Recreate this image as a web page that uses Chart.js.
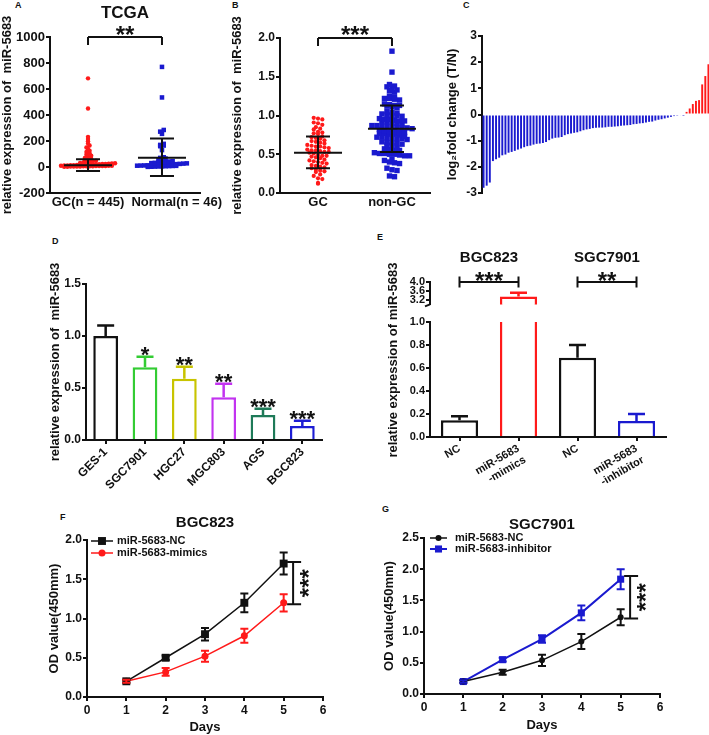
<!DOCTYPE html>
<html>
<head>
<meta charset="utf-8">
<title>miR-5683 figure</title>
<script src="https://cdn.jsdelivr.net/npm/chart.js@4.4.1/dist/chart.umd.min.js"></script>
<style>
  html, body { margin: 0; padding: 0; background: #fff; }
  body { position: relative; width: 709px; height: 735px; overflow: hidden; }
  canvas { position: absolute; }
  .tag { position: absolute; font: bold 9px "Liberation Sans", Arial, sans-serif; color: #111; }
</style>
</head>
<body>
<div class="tag" style="left:15px;top:0px">A</div>
<div class="tag" style="left:232px;top:0px">B</div>
<div class="tag" style="left:463px;top:0px">C</div>
<div class="tag" style="left:52px;top:236px">D</div>
<div class="tag" style="left:377px;top:232px">E</div>
<div class="tag" style="left:60px;top:512px">F</div>
<div class="tag" style="left:382px;top:504px">G</div>

<canvas id="chart-a" width="230" height="222" style="left:0px;top:0px"></canvas>
<canvas id="chart-b" width="230" height="222" style="left:230px;top:0px"></canvas>
<canvas id="chart-c" width="275" height="222" style="left:440px;top:0px"></canvas>
<canvas id="chart-d" width="300" height="262" style="left:46px;top:230px"></canvas>
<canvas id="chart-e-low" width="300" height="264" style="left:380px;top:238px"></canvas>
<canvas id="chart-e-up" width="300" height="74" style="left:380px;top:238px"></canvas>
<canvas id="chart-f" width="300" height="240" style="left:40px;top:495px"></canvas>
<canvas id="chart-g" width="300" height="240" style="left:380px;top:495px"></canvas>

<script>
// ---- data ----

// A: TCGA scatter
const tcgaGroups = ["GC(n = 445)", "Normal(n = 46)"];
const tcgaLabelAt = [0, 1.2];
const tcgaGC = [2, 2, 3, 3, 4, 4, 5, 5, 6, 6, 7, 7, 8, 8, 9, 9,
  10, 11, 12, 13, 14, 15, 16, 17, 18, 19, 20, 21, 22, 23, 24, 25, 27, 29,
  31, 33, 36, 40, 44, 48, 52, 58, 64, 70, 78, 86, 95, 105, 115, 125, 138,
  150, 165, 180, 198, 215, 232, 450, 682];
const tcgaNormal = [1, 2, 3, 4, 5, 6, 7, 8, 9, 10, 11, 12, 13, 14, 15, 16, 17,
  18, 19, 20, 22, 24, 26, 28, 30, 32, 35, 38, 40, 42, 45, 55, 60, 65, 70, 75,
  130, 160, 165, 170, 178, 255, 272, 285, 535, 770];
const tcgaMean = [14, 72];
const tcgaSdLow = [-31, -69];
const tcgaSdHigh = [59, 220];
const tcgaTicks = [-200, 0, 200, 400, 600, 800, 1000];
const tcgaSig = "**";

// B: GC vs non-GC
const tissueGroups = ["GC", "non-GC"];
const tissueLabelAt = [0, 1];
const tissueGC = [0.97, 0.96, 0.95, 0.91, 0.90, 0.88, 0.85, 0.83, 0.82, 0.79,
  0.78, 0.77, 0.76, 0.73, 0.72, 0.71, 0.70, 0.68, 0.67, 0.66, 0.65, 0.64, 0.62,
  0.61, 0.60, 0.60, 0.59, 0.58, 0.56, 0.55, 0.55, 0.54, 0.53, 0.53, 0.52, 0.51,
  0.49, 0.48, 0.48, 0.47, 0.46, 0.45, 0.43, 0.42, 0.41, 0.40, 0.39, 0.38, 0.36,
  0.35, 0.34, 0.33, 0.32, 0.30, 0.29, 0.28, 0.27, 0.24, 0.22, 0.19, 0.18, 0.13, 0.12];
const tissueNonGC = [1.83, 1.56, 1.40, 1.38, 1.37, 1.34, 1.33, 1.32, 1.30,
  1.25, 1.23, 1.22, 1.22, 1.21, 1.20, 1.15, 1.14, 1.13, 1.13, 1.12, 1.11, 1.10,
  1.05, 1.04, 1.03, 1.02, 1.01, 1.00, 1.00, 0.99, 0.96, 0.95, 0.95, 0.94, 0.93,
  0.93, 0.92, 0.92, 0.91, 0.90, 0.88, 0.87, 0.87, 0.86, 0.86, 0.85, 0.85, 0.84,
  0.84, 0.83, 0.82, 0.80, 0.79, 0.79, 0.78, 0.78, 0.77, 0.77, 0.76, 0.76, 0.75,
  0.73, 0.72, 0.72, 0.71, 0.71, 0.70, 0.70, 0.69, 0.66, 0.65, 0.65, 0.64, 0.63,
  0.62, 0.61, 0.58, 0.57, 0.56, 0.55, 0.55, 0.52, 0.51, 0.51, 0.50, 0.50, 0.49,
  0.48, 0.48, 0.43, 0.42, 0.40, 0.39, 0.38, 0.32, 0.30, 0.29, 0.22, 0.21];
const tissueMean = [0.52, 0.83];
const tissueSdLow = [0.32, 0.53];
const tissueSdHigh = [0.73, 1.13];
const tissueTicks = [0, 0.5, 1.0, 1.5, 2.0];
const tissueSig = "***";

// C: log2 fold change (T/N), sorted
const foldChange = [-2.80, -2.72, -2.60, -1.78, -1.71, -1.65, -1.56, -1.53,
  -1.46, -1.43, -1.39, -1.34, -1.30, -1.25, -1.21, -1.19, -1.15, -1.12, -1.11,
  -1.09, -1.05, -0.98, -0.92, -0.89, -0.88, -0.86, -0.79, -0.75, -0.73, -0.70,
  -0.68, -0.64, -0.60, -0.57, -0.55, -0.52, -0.51, -0.50, -0.50, -0.49, -0.47,
  -0.47, -0.46, -0.45, -0.43, -0.42, -0.41, -0.40, -0.37, -0.36, -0.34, -0.33,
  -0.31, -0.28, -0.27, -0.23, -0.20, -0.18, -0.15, -0.12, -0.09, -0.06, -0.05,
  -0.04, -0.02, 0.10, 0.23, 0.40, 0.52, 0.55, 1.15, 1.47, 1.92];
const foldTicks = [-3, -2, -1, 0, 1, 2, 3];

// D: cell lines
const cellLines = ["GES-1", "SGC7901", "HGC27", "MGC803", "AGS", "BGC823"];
const cellExpr = [1.0, 0.70, 0.59, 0.41, 0.24, 0.135];
const cellErr = [0.10, 0.10, 0.115, 0.13, 0.06, 0.05];
const cellSig = ["", "*", "**", "**", "***", "***"];
const cellTicks = [0, 0.5, 1.0, 1.5];

// E: mimics / inhibitor
const treatLabels = ["NC", ["miR-5683", "-mimics"], "NC", ["miR-5683", "-inhibitor"]];
const treatExpr = [0.145, 3.35, 0.69, 0.14];
const treatErr = [0.035, 0.17, 0.11, 0.06];
const treatGroups = ["BGC823", "SGC7901"];
const treatSig = ["***", "**"];
const treatLowTicks = [0, 0.2, 0.4, 0.6, 0.8, 1.0];
const treatUpTicks = [3.2, 3.6, 4.0];

// F, G: growth curves
const days = [1, 2, 3, 4, 5];
const dayTicks = [0, 1, 2, 3, 4, 5, 6];
const bgcNC = [0.2, 0.5, 0.8, 1.2, 1.7];
const bgcNCErr = [0.02, 0.03, 0.08, 0.12, 0.14];
const bgcMimics = [0.2, 0.32, 0.52, 0.78, 1.2];
const bgcMimicsErr = [0.02, 0.05, 0.07, 0.09, 0.11];
const bgcTicks = [0, 0.5, 1.0, 1.5, 2.0];
const bgcBracket = [1.18, 1.72];
const sgcNC = [0.2, 0.35, 0.54, 0.84, 1.23];
const sgcNCErr = [0.02, 0.04, 0.09, 0.12, 0.13];
const sgcInhib = [0.2, 0.55, 0.88, 1.3, 1.84];
const sgcInhibErr = [0.02, 0.03, 0.06, 0.12, 0.16];
const sgcTicks = [0, 0.5, 1.0, 1.5, 2.0, 2.5];
const sgcBracket = [1.21, 1.89];
const growthSig = "***";

// ---- look ----
const FONT = '"Liberation Sans", Arial, Helvetica, sans-serif';
const INK = "#111111";
const RED = "#ff1a1a";
const BLUE = "#1a1acf";
const cellColors = [INK, "#33cc33", "#c8c400", "#c233f0", "#1e7a58", "#1d1dd4"];
const treatColors = [INK, RED, INK, BLUE];

Chart.defaults.font.family = FONT;
Chart.defaults.font.size = 12;
Chart.defaults.font.weight = "bold";
Chart.defaults.color = INK;
Chart.defaults.animation = false;
Chart.defaults.responsive = false;
Chart.defaults.devicePixelRatio = 1;
Chart.defaults.plugins.legend.display = false;
Chart.defaults.plugins.tooltip.enabled = false;

// GraphPad-like dot layout: points in the same value band sit side by side
function swarm(values, cx, bin, dx) {
  const rows = {};
  values.forEach((v) => {
    const k = Math.round(v / bin);
    (rows[k] = rows[k] || []).push(v);
  });
  const pts = [];
  Object.values(rows).forEach((row) => {
    row.forEach((v, i) => pts.push({ x: cx + (i - (row.length - 1) / 2) * dx, y: v }));
  });
  return pts;
}

function setTicks(values) {
  return (scale) => {
    scale.ticks = values.map((v) => ({ value: v }));
  };
}

function yAxis(ticks, width, digits, size, title) {
  return {
    min: ticks[0],
    max: ticks[ticks.length - 1],
    afterBuildTicks: setTicks(ticks),
    ticks: { padding: 1, autoSkip: false, font: { size }, callback: (v) => Number(v).toFixed(digits) },
    grid: { drawOnChartArea: false, tickLength: 4, lineWidth: 2, color: INK },
    border: { width: 2, color: INK },
    title: title || { display: false },
    afterFit: (s) => { s.width = width; },
  };
}

function drawText(ctx, text, x, y, size, opts = {}) {
  ctx.save();
  ctx.font = `bold ${size}px ${FONT}`;
  ctx.fillStyle = INK;
  ctx.textAlign = opts.align || "center";
  ctx.textBaseline = "middle";
  ctx.translate(x, y);
  if (opts.rotate) ctx.rotate(opts.rotate);
  ctx.fillText(text, 0, 0);
  ctx.restore();
}

// asterisks sit high in the em box, so shift them to centre the glyphs
function drawStars(ctx, text, cx, cy, size, vertical) {
  const lift = 0.56 * size;
  ctx.save();
  ctx.font = `bold ${size}px ${FONT}`;
  ctx.fillStyle = INK;
  ctx.textAlign = "center";
  ctx.textBaseline = "alphabetic";
  if (vertical) {
    ctx.translate(cx + lift, cy);
    ctx.rotate(-Math.PI / 2);
  } else {
    ctx.translate(cx, cy + lift);
  }
  ctx.fillText(text, 0, 0);
  ctx.restore();
}

function strokePath(ctx, segs, width, color) {
  ctx.save();
  ctx.strokeStyle = color || INK;
  ctx.lineWidth = width;
  ctx.beginPath();
  segs.forEach(([x1, y1, x2, y2]) => { ctx.moveTo(x1, y1); ctx.lineTo(x2, y2); });
  ctx.stroke();
  ctx.restore();
}

const errorBars = {
  id: "errorBars",
  afterDatasetsDraw(chart) {
    const { ctx, chartArea: area, scales } = chart;
    ctx.save();
    ctx.beginPath();
    ctx.rect(area.left - 10, area.top - 2, area.right - area.left + 20, area.bottom - area.top + 4);
    ctx.clip();
    chart.data.datasets.forEach((ds, d) => {
      if (!ds.err) return;
      const meta = chart.getDatasetMeta(d);
      const yScale = scales[meta.yAxisID];
      meta.data.forEach((el, i) => {
        const raw = ds.data[i];
        const v = typeof raw === "object" ? raw.y : raw;
        const top = yScale.getPixelForValue(v + ds.err[i]);
        const bot = yScale.getPixelForValue(ds.errUp ? v : v - ds.err[i]);
        const color = Array.isArray(ds.borderColor) ? ds.borderColor[i] : ds.borderColor;
        const c = ds.errCap;
        const segs = [[el.x, top, el.x, bot], [el.x - c, top, el.x + c, top]];
        if (!ds.errUp) segs.push([el.x - c, bot, el.x + c, bot]);
        strokePath(ctx, segs, ds.errWidth || 2, color);
      });
    });
    ctx.restore();
  },
};

function meanSd(mean, low, high) {
  return {
    id: "meanSd",
    afterDatasetsDraw(chart) {
      const { ctx, scales: { x, y } } = chart;
      mean.forEach((m, i) => {
        const cx = x.getPixelForValue(i);
        const ym = y.getPixelForValue(m);
        const yl = y.getPixelForValue(low[i]);
        const yh = y.getPixelForValue(high[i]);
        strokePath(ctx, [
          [cx - 24, ym, cx + 24, ym],
          [cx, yl, cx, yh],
          [cx - 12, yl, cx + 12, yl],
          [cx - 12, yh, cx + 12, yh],
        ], 2);
      });
    },
  };
}

function lineLegend(x0, y0, gap, len, textX) {
  return {
    id: "lineLegend",
    afterDraw(chart) {
      const ctx = chart.ctx;
      chart.data.datasets.forEach((ds, i) => {
        const y = y0 + i * gap;
        strokePath(ctx, [[x0, y, x0 + len, y]], ds.borderWidth, ds.borderColor);
        const mx = x0 + len / 2;
        ctx.save();
        ctx.fillStyle = ds.borderColor;
        ctx.beginPath();
        if (ds.pointStyle === "rect") {
          const h = Math.SQRT1_2 * ds.pointRadius;
          ctx.rect(mx - h, y - h, 2 * h, 2 * h);
        } else {
          ctx.arc(mx, y, ds.pointRadius, 0, Math.PI * 2);
        }
        ctx.fill();
        ctx.restore();
        drawText(ctx, ds.label, textX, y, 11, { align: "left" });
      });
    },
  };
}

function scatterX(groups, labelAt) {
  return {
    type: "linear",
    min: -0.514,
    max: 1.514,
    afterBuildTicks: setTicks(labelAt),
    ticks: { padding: 2, autoSkip: false, font: { size: 13 }, callback: (v, i) => groups[i] },
    grid: { display: false, drawTicks: false },
    border: { width: 2, color: INK },
    afterFit: (s) => { s.height = 29; },
  };
}

// ---- A ----
new Chart(document.getElementById("chart-a"), {
  type: "scatter",
  data: {
    datasets: [
      { label: tcgaGroups[0], data: swarm(tcgaGC, 0, 20, 0.043), pointStyle: "circle",
        pointRadius: 2.2, backgroundColor: RED, borderWidth: 0 },
      { label: tcgaGroups[1], data: swarm(tcgaNormal, 1, 20, 0.048), pointStyle: "rect",
        pointRadius: 3.2, backgroundColor: BLUE, borderWidth: 0 },
    ],
  },
  options: {
    layout: { padding: { top: 37, right: 30, left: 0, bottom: 0 } },
    scales: {
      x: scatterX(tcgaGroups, tcgaLabelAt),
      y: yAxis(tcgaTicks, 50, 0, 13, {
        display: true, text: "relative expression of  miR-5683",
        font: { size: 13 }, padding: { top: 0, bottom: 0 },
      }),
    },
  },
  plugins: [meanSd(tcgaMean, tcgaSdLow, tcgaSdHigh), {
    id: "tcgaNotes",
    afterDraw(chart) {
      const { ctx, chartArea: area, scales: { x, y } } = chart;
      drawText(ctx, "TCGA", (area.left + area.right) / 2, area.top - 24, 17);
      const x1 = x.getPixelForValue(0);
      const x2 = x.getPixelForValue(1);
      const yb = y.getPixelForValue(tcgaTicks[tcgaTicks.length - 1]);
      strokePath(ctx, [[x1, yb + 8, x1, yb], [x1, yb, x2, yb], [x2, yb, x2, yb + 8]], 2);
      drawStars(ctx, tcgaSig, (x1 + x2) / 2, yb - 7, 24);
    },
  }],
});

// ---- B ----
new Chart(document.getElementById("chart-b"), {
  type: "scatter",
  data: {
    datasets: [
      { label: tissueGroups[0], data: swarm(tissueGC, 0, 0.05, 0.058), pointStyle: "circle",
        pointRadius: 2.1, backgroundColor: RED, borderWidth: 0 },
      { label: tissueGroups[1], data: swarm(tissueNonGC, 1, 0.05, 0.068), pointStyle: "rect",
        pointRadius: 3.8, backgroundColor: BLUE, borderWidth: 0 },
    ],
  },
  options: {
    layout: { padding: { top: 38, right: 30, left: 0, bottom: 0 } },
    scales: {
      x: scatterX(tissueGroups, tissueLabelAt),
      y: yAxis(tissueTicks, 50, 1, 12, {
        display: true, text: "relative expression of  miR-5683",
        font: { size: 13 }, padding: { top: 0, bottom: 0 },
      }),
    },
  },
  plugins: [meanSd(tissueMean, tissueSdLow, tissueSdHigh), {
    id: "tissueNotes",
    afterDraw(chart) {
      const { ctx, scales: { x, y } } = chart;
      const x1 = x.getPixelForValue(0);
      const x2 = x.getPixelForValue(1);
      const yb = y.getPixelForValue(tissueTicks[tissueTicks.length - 1]);
      strokePath(ctx, [[x1, yb + 8, x1, yb], [x1, yb, x2, yb], [x2, yb, x2, yb + 8]], 2);
      drawStars(ctx, tissueSig, (x1 + x2) / 2, yb - 8, 24);
    },
  }],
});

// ---- C ----
new Chart(document.getElementById("chart-c"), {
  type: "bar",
  data: {
    labels: foldChange.map((_, i) => i + 1),
    datasets: [{
      data: foldChange,
      backgroundColor: foldChange.map((v) => (v < 0 ? BLUE : RED)),
      barPercentage: 0.62,
      categoryPercentage: 1,
    }],
  },
  options: {
    layout: { padding: { top: 36, right: 5, left: 0, bottom: 29 } },
    scales: {
      x: { display: false },
      y: yAxis(foldTicks, 42, 0, 12, {
        display: true, text: "log\u2082fold change (T/N)",
        font: { size: 13 }, padding: { top: 5, bottom: 0 },
      }),
    },
  },
});

// ---- D ----
new Chart(document.getElementById("chart-d"), {
  type: "bar",
  data: {
    labels: cellLines,
    datasets: [{
      data: cellExpr,
      err: cellErr, errUp: true, errCap: 8.5, errWidth: 2.5,
      backgroundColor: "#ffffff",
      borderColor: cellColors,
      borderWidth: 2.5,
      barPercentage: 0.63,
      categoryPercentage: 1,
    }],
  },
  options: {
    layout: { padding: { top: 54, right: 24, left: 0, bottom: 0 } },
    scales: {
      x: {
        z: 1,
        ticks: { minRotation: 45, maxRotation: 45, autoSkip: false, padding: 1, font: { size: 12 } },
        grid: { offset: false, drawOnChartArea: false, tickLength: 4, lineWidth: 2, color: INK },
        border: { width: 2, color: INK },
        afterFit: (s) => { s.height = 52; },
      },
      y: yAxis(cellTicks, 40, 1, 12, {
        display: true, text: "relative expression of  miR-5683",
        font: { size: 13 }, padding: { top: 2, bottom: 0 },
      }),
    },
  },
  plugins: [errorBars, {
    id: "cellStars",
    afterDraw(chart) {
      const { ctx, scales: { y } } = chart;
      chart.getDatasetMeta(0).data.forEach((el, i) => {
        if (!cellSig[i]) return;
        drawStars(ctx, cellSig[i], el.x, y.getPixelForValue(cellExpr[i] + cellErr[i]) - 7, 22);
      });
    },
  }],
});

// ---- E (broken axis: lower 0-1, upper 3.2-4.0) ----
function treatDataset() {
  return {
    data: treatExpr,
    err: treatErr, errUp: true, errCap: 8.5, errWidth: 2.5,
    backgroundColor: "#ffffff",
    borderColor: treatColors,
    borderWidth: 2.5,
    barPercentage: 0.63,
    categoryPercentage: 1,
    clip: 0,
  };
}

new Chart(document.getElementById("chart-e-low"), {
  type: "bar",
  data: { labels: treatLabels, datasets: [treatDataset()] },
  options: {
    layout: { padding: { top: 84, right: 14, left: 0, bottom: 0 } },
    scales: {
      x: {
        z: 1,
        ticks: { minRotation: 30, maxRotation: 30, autoSkip: false, padding: 1, font: { size: 11 } },
        grid: { offset: false, drawOnChartArea: false, tickLength: 4, lineWidth: 2, color: INK },
        border: { width: 2, color: INK },
        afterFit: (s) => { s.height = 65; },
      },
      y: yAxis(treatLowTicks, 50, 1, 11),
    },
  },
  plugins: [errorBars, {
    id: "treatTitle",
    afterDraw(chart) {
      drawText(chart.ctx, "relative expression of miR-5683", 13, 122, 13, { rotate: -Math.PI / 2 });
    },
  }],
});

new Chart(document.getElementById("chart-e-up"), {
  type: "bar",
  data: { labels: treatLabels, datasets: [treatDataset()] },
  options: {
    layout: { padding: { top: 44, right: 14, left: 0, bottom: 2.5 } },
    scales: {
      x: { display: false },
      y: {
        min: 3.0,
        max: 4.0,
        afterBuildTicks: setTicks(treatUpTicks),
        ticks: { padding: 1, autoSkip: false, font: { size: 11 }, callback: (v) => Number(v).toFixed(1) },
        grid: { drawOnChartArea: false, tickLength: 4, lineWidth: 2, color: INK },
        border: { width: 2, color: INK },
        afterFit: (s) => { s.width = 50; },
      },
    },
  },
  plugins: [errorBars, {
    id: "treatNotes",
    afterDraw(chart) {
      const { ctx, chartArea: area, scales: { x, y } } = chart;
      // axis break mark
      strokePath(ctx, [[area.left, area.bottom, area.left - 5, area.bottom + 2]], 2);
      const yb = y.getPixelForValue(4.0);
      treatGroups.forEach((name, g) => {
        const x1 = x.getPixelForValue(2 * g);
        const x2 = x.getPixelForValue(2 * g + 1);
        drawText(ctx, name, (x1 + x2) / 2, area.top - 24, 15);
        strokePath(ctx, [[x1, yb, x2, yb], [x1, yb - 5.5, x1, yb + 5.5], [x2, yb - 5.5, x2, yb + 5.5]], 2);
        drawStars(ctx, treatSig[g], (x1 + x2) / 2, yb - 6, 24);
      });
    },
  }],
});

// ---- F, G growth curves ----
function growthOptions(ticks, yWidth, padTop, xHeight, padRight, titlePad, daysPad) {
  return {
    layout: { padding: { top: padTop, right: padRight, left: 0, bottom: 0 } },
    scales: {
      x: {
        type: "linear",
        min: dayTicks[0],
        max: dayTicks[dayTicks.length - 1],
        afterBuildTicks: setTicks(dayTicks),
        ticks: { padding: 2, font: { size: 12 } },
        grid: { drawOnChartArea: false, tickLength: 4, lineWidth: 2, color: INK },
        border: { width: 2, color: INK },
        title: { display: true, text: "Days", font: { size: 13 }, padding: { top: 0, bottom: daysPad } },
        afterFit: (s) => { s.height = xHeight; },
      },
      y: yAxis(ticks, yWidth, 1, 12, {
        display: true, text: "OD value(450mm)",
        font: { size: 13 }, padding: { top: titlePad, bottom: 0 },
      }),
    },
  };
}

function growthSet(label, values, errs, color, style, radius, width) {
  return {
    label,
    data: days.map((d, i) => ({ x: d, y: values[i] })),
    err: errs, errCap: 4, errWidth: 2,
    borderColor: color,
    backgroundColor: color,
    pointBackgroundColor: color,
    pointBorderWidth: 0,
    pointStyle: style,
    pointRadius: radius,
    borderWidth: width,
  };
}

function growthNotes(title, titleOffset, bracket) {
  return {
    id: "growthNotes",
    afterDraw(chart) {
      const { ctx, chartArea: area, scales: { x, y } } = chart;
      drawText(ctx, title, (area.left + area.right) / 2, area.top - titleOffset, 15);
      const bx = x.getPixelForValue(5.24);
      const y1 = y.getPixelForValue(bracket[0]);
      const y2 = y.getPixelForValue(bracket[1]);
      strokePath(ctx, [[bx, y1, bx, y2], [bx - 6, y1, bx + 8, y1], [bx - 6, y2, bx + 8, y2]], 2);
      drawStars(ctx, growthSig, bx + 10, (y1 + y2) / 2, 24, true);
    },
  };
}

new Chart(document.getElementById("chart-f"), {
  type: "line",
  data: {
    datasets: [
      growthSet("miR-5683-NC", bgcNC, bgcNCErr, INK, "rect", 5.6, 1.5),
      growthSet("miR-5683-mimics", bgcMimics, bgcMimicsErr, RED, "circle", 3.5, 1.5),
    ],
  },
  options: growthOptions(bgcTicks, 47, 45, 38, 17, 7, 0),
  plugins: [errorBars, lineLegend(51, 46, 12, 22, 77), growthNotes("BGC823", 17, bgcBracket)],
});

new Chart(document.getElementById("chart-g"), {
  type: "line",
  data: {
    datasets: [
      growthSet("miR-5683-NC", sgcNC, sgcNCErr, INK, "circle", 3, 1.5),
      growthSet("miR-5683-inhibitor", sgcInhib, sgcInhibErr, BLUE, "rect", 5, 2),
    ],
  },
  options: growthOptions(sgcTicks, 44, 43, 41, 20, 2, 2),
  plugins: [errorBars, lineLegend(50, 43, 11, 17, 75), growthNotes("SGC7901", 13, sgcBracket)],
});
</script>
</body>
</html>
